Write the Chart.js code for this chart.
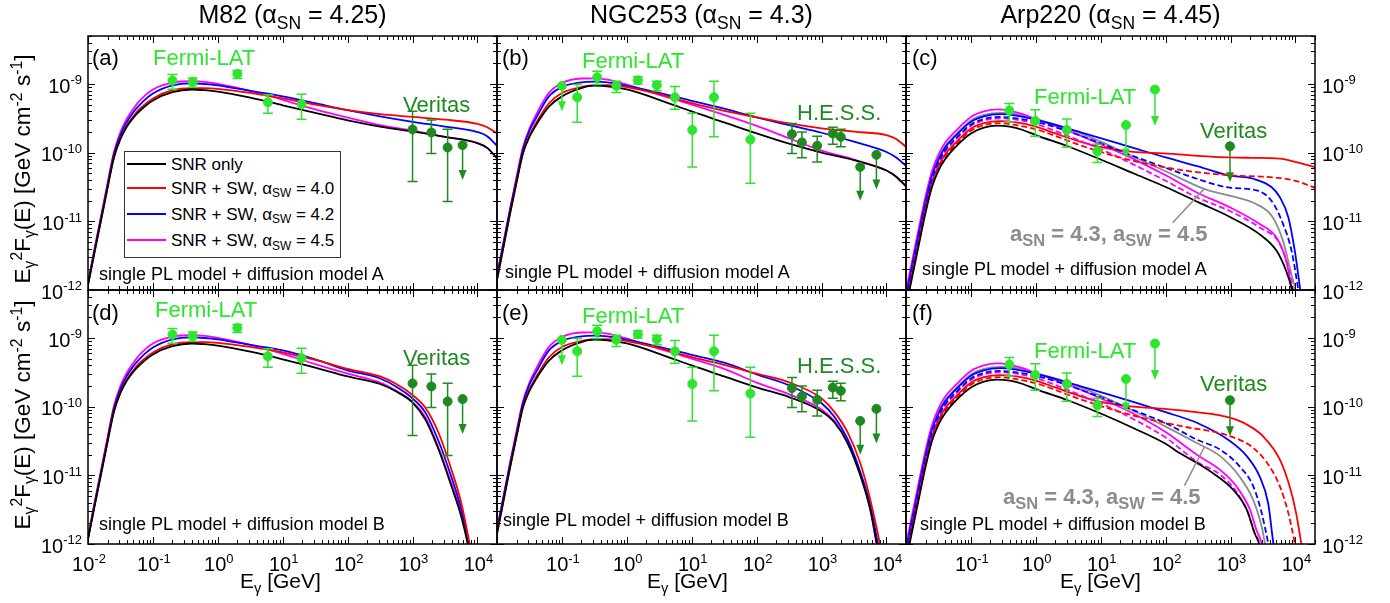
<!DOCTYPE html>
<html>
<head>
<meta charset="utf-8">
<title>Gamma-ray spectra of M82, NGC253 and Arp220</title>
<script src="https://cdn.jsdelivr.net/npm/chart.js@4.4.1/dist/chart.umd.min.js"></script>
<style>
html,body{margin:0;padding:0;background:#fff;}
#wrap{position:relative;width:1390px;height:603px;overflow:hidden;background:#fff;font-family:"Liberation Sans",Arial,Helvetica,sans-serif;color:#000;}
#wrap canvas{position:absolute;left:0;top:0;}
.t{position:absolute;white-space:nowrap;line-height:1;}
.sb{font-size:0.7em;position:relative;top:0.3em;}
.sb2{font-size:0.75em;position:relative;top:0.3em;}
.sp{font-size:0.7em;position:relative;top:-0.5em;}
</style>
</head>
<body>
<div id="wrap"></div>
<script>
// ---------------- axes & labels ----------------
const X_MIN = 1e-2, X_MAX = 2e4, Y_MIN = 1e-12, Y_MAX = 5e-9;
const xTickExps = [-2, -1, 0, 1, 2, 3, 4];
const yTickExps = [-9, -10, -11, -12];
const minorMults = [2, 3, 4, 5, 6, 7, 8, 9];

const titles = ['M82 (α<span class="sb">SN</span> = 4.25)', 'NGC253 (α<span class="sb">SN</span> = 4.3)', 'Arp220 (α<span class="sb">SN</span> = 4.45)'];
const panelTags = ['(a)', '(b)', '(c)', '(d)', '(e)', '(f)'];
const modelNotes = ['single PL model + diffusion model A', 'single PL model + diffusion model B'];
const legendLabels = ['SNR only', 'SNR + SW, α<span class="sb">SW</span> = 4.0', 'SNR + SW, α<span class="sb">SW</span> = 4.2', 'SNR + SW, α<span class="sb">SW</span> = 4.5'];
const altLabel = 'a<span class="sb2">SN</span> = 4.3, a<span class="sb2">SW</span> = 4.5';
const yTitle = 'E<span class="sb">γ</span><span class="sp">2</span>F<span class="sb">γ</span>(E) [GeV cm<span class="sp">-2</span> s<span class="sp">-1</span>]';
const xTitle = 'E<span class="sb">γ</span> [GeV]';

// ---------------- model curves: [log10(E/GeV), log10(E²F / GeV cm⁻² s⁻¹)] ----------------
// M82, diffusion model A
const m82A_snr  = [[-2,-11.93],[-1.9,-11.45],[-1.8,-10.99],[-1.7,-10.52],[-1.6,-10.07],[-1.5,-9.80],[-1.4,-9.62],[-1.3,-9.49],[-1.2,-9.39],[-1,-9.24],[-0.7,-9.12],[-0.4,-9.08],[-0.2,-9.09],[0,-9.11],[0.5,-9.20],[1,-9.31],[1.5,-9.42],[2,-9.53],[2.5,-9.62],[3,-9.69],[3.5,-9.77],[4,-9.86],[4.15,-9.93],[4.3,-10.08]];
const m82A_sw40 = [[-2,-11.93],[-1.9,-11.45],[-1.8,-10.98],[-1.7,-10.51],[-1.6,-10.06],[-1.5,-9.79],[-1.4,-9.60],[-1.3,-9.47],[-1.2,-9.36],[-1,-9.21],[-0.7,-9.09],[-0.4,-9.06],[-0.2,-9.06],[0,-9.07],[0.5,-9.13],[1,-9.21],[1.5,-9.30],[2,-9.38],[2.5,-9.44],[3,-9.48],[3.5,-9.52],[4,-9.58],[4.15,-9.63],[4.3,-9.72]];
const m82A_sw42 = [[-2,-11.91],[-1.9,-11.42],[-1.8,-10.95],[-1.7,-10.48],[-1.6,-10.02],[-1.5,-9.74],[-1.4,-9.55],[-1.3,-9.41],[-1.2,-9.30],[-1,-9.14],[-0.7,-9.02],[-0.4,-8.99],[-0.2,-9.00],[0,-9.02],[0.5,-9.10],[1,-9.18],[1.5,-9.28],[2,-9.38],[2.5,-9.47],[3,-9.55],[3.5,-9.62],[4,-9.70],[4.15,-9.76],[4.3,-9.90]];
const m82A_sw45 = [[-2,-11.90],[-1.9,-11.40],[-1.8,-10.93],[-1.7,-10.45],[-1.6,-9.99],[-1.5,-9.70],[-1.4,-9.50],[-1.3,-9.36],[-1.2,-9.24],[-1,-9.08],[-0.7,-8.98],[-0.4,-8.96],[-0.2,-8.97],[0,-9.00],[0.5,-9.10],[1,-9.23],[1.5,-9.37],[2,-9.49],[2.5,-9.60],[3,-9.68],[3.5,-9.77],[4,-9.86],[4.15,-9.93],[4.3,-10.08]];
// M82, diffusion model B
const m82B_snr  = [[-2,-11.93],[-1.9,-11.45],[-1.8,-10.99],[-1.7,-10.52],[-1.6,-10.07],[-1.5,-9.80],[-1.4,-9.62],[-1.3,-9.49],[-1.2,-9.39],[-1,-9.24],[-0.7,-9.12],[-0.4,-9.08],[-0.2,-9.09],[0,-9.11],[0.5,-9.20],[1,-9.31],[1.5,-9.43],[2,-9.56],[2.5,-9.67],[2.75,-9.78],[3,-9.94],[3.2,-10.19],[3.4,-10.62],[3.6,-11.16],[3.75,-11.60],[3.85,-12.0],[3.9,-12.25]];
const m82B_sw40 = [[-2,-11.93],[-1.9,-11.45],[-1.8,-10.98],[-1.7,-10.51],[-1.6,-10.06],[-1.5,-9.79],[-1.4,-9.60],[-1.3,-9.47],[-1.2,-9.36],[-1,-9.21],[-0.7,-9.09],[-0.4,-9.06],[-0.2,-9.06],[0,-9.07],[0.5,-9.13],[1,-9.21],[1.5,-9.32],[2,-9.45],[2.5,-9.56],[2.75,-9.67],[3,-9.83],[3.2,-10.02],[3.4,-10.38],[3.6,-10.92],[3.75,-11.40],[3.88,-12.0],[3.93,-12.25]];
const m82B_sw42 = [[-2,-11.91],[-1.9,-11.42],[-1.8,-10.95],[-1.7,-10.48],[-1.6,-10.02],[-1.5,-9.74],[-1.4,-9.55],[-1.3,-9.41],[-1.2,-9.30],[-1,-9.14],[-0.7,-9.02],[-0.4,-8.99],[-0.2,-9.00],[0,-9.02],[0.5,-9.10],[1,-9.18],[1.5,-9.31],[2,-9.47],[2.5,-9.59],[2.75,-9.71],[3,-9.88],[3.2,-10.09],[3.4,-10.50],[3.6,-11.03],[3.75,-11.49],[3.87,-12.0],[3.92,-12.25]];
const m82B_sw45 = [[-2,-11.90],[-1.9,-11.40],[-1.8,-10.93],[-1.7,-10.45],[-1.6,-9.99],[-1.5,-9.70],[-1.4,-9.50],[-1.3,-9.36],[-1.2,-9.24],[-1,-9.08],[-0.7,-8.98],[-0.4,-8.96],[-0.2,-8.97],[0,-9.00],[0.5,-9.10],[1,-9.23],[1.5,-9.38],[2,-9.52],[2.5,-9.65],[2.75,-9.77],[3,-9.93],[3.2,-10.16],[3.4,-10.60],[3.6,-11.13],[3.75,-11.56],[3.86,-12.0],[3.91,-12.25]];
// NGC253, diffusion model A
const n253A_snr  = [[-2,-11.85],[-1.9,-11.37],[-1.8,-10.89],[-1.7,-10.44],[-1.6,-10.01],[-1.5,-9.77],[-1.4,-9.60],[-1.2,-9.33],[-1,-9.18],[-0.7,-9.06],[-0.5,-9.025],[-0.3,-9.035],[0,-9.08],[0.5,-9.23],[1,-9.40],[1.5,-9.56],[2,-9.72],[2.5,-9.87],[3,-10.00],[3.5,-10.11],[4,-10.26],[4.15,-10.35],[4.3,-10.49]];
const n253A_sw40 = [[-2,-11.85],[-1.9,-11.37],[-1.8,-10.89],[-1.7,-10.43],[-1.6,-10.00],[-1.5,-9.75],[-1.4,-9.57],[-1.2,-9.28],[-1,-9.13],[-0.7,-9.044],[-0.5,-9.015],[-0.3,-9.015],[0,-9.044],[0.5,-9.147],[1,-9.28],[1.5,-9.39],[2,-9.485],[2.5,-9.575],[3,-9.646],[3.5,-9.695],[4,-9.744],[4.15,-9.80],[4.3,-9.915]];
const n253A_sw42 = [[-2,-11.80],[-1.9,-11.32],[-1.8,-10.84],[-1.7,-10.39],[-1.6,-9.95],[-1.5,-9.68],[-1.4,-9.50],[-1.2,-9.18],[-1,-9.044],[-0.7,-8.976],[-0.5,-8.966],[-0.3,-8.976],[0,-9.025],[0.5,-9.13],[1,-9.245],[1.5,-9.36],[2,-9.485],[2.5,-9.60],[3,-9.71],[3.5,-9.84],[4,-9.99],[4.15,-10.07],[4.3,-10.19]];
const n253A_sw45 = [[-2,-11.78],[-1.9,-11.30],[-1.8,-10.82],[-1.7,-10.36],[-1.6,-9.92],[-1.5,-9.65],[-1.4,-9.45],[-1.2,-9.13],[-1,-8.985],[-0.7,-8.92],[-0.5,-8.917],[-0.3,-8.936],[0,-9.01],[0.5,-9.157],[1,-9.30],[1.5,-9.45],[2,-9.61],[2.5,-9.79],[3,-9.97],[3.5,-10.10],[4,-10.26],[4.15,-10.35],[4.3,-10.49]];
// NGC253, diffusion model B
const n253B_snr  = [[-2,-11.85],[-1.9,-11.37],[-1.8,-10.89],[-1.7,-10.44],[-1.6,-10.01],[-1.5,-9.77],[-1.4,-9.60],[-1.2,-9.33],[-1,-9.18],[-0.7,-9.06],[-0.5,-9.025],[-0.3,-9.035],[0,-9.08],[0.5,-9.23],[1,-9.40],[1.5,-9.56],[2,-9.72],[2.5,-9.86],[3,-10.07],[3.2,-10.23],[3.4,-10.53],[3.6,-11.01],[3.75,-11.50],[3.85,-12.0],[3.9,-12.25]];
const n253B_sw40 = [[-2,-11.85],[-1.9,-11.37],[-1.8,-10.89],[-1.7,-10.43],[-1.6,-10.00],[-1.5,-9.75],[-1.4,-9.57],[-1.2,-9.28],[-1,-9.13],[-0.7,-9.044],[-0.5,-9.015],[-0.3,-9.015],[0,-9.044],[0.5,-9.147],[1,-9.28],[1.5,-9.39],[2,-9.52],[2.5,-9.645],[3,-9.88],[3.2,-10.08],[3.4,-10.37],[3.6,-10.83],[3.75,-11.35],[3.9,-12.0],[3.95,-12.25]];
const n253B_sw42 = [[-2,-11.80],[-1.9,-11.32],[-1.8,-10.84],[-1.7,-10.39],[-1.6,-9.95],[-1.5,-9.68],[-1.4,-9.50],[-1.2,-9.18],[-1,-9.044],[-0.7,-8.976],[-0.5,-8.966],[-0.3,-8.976],[0,-9.025],[0.5,-9.13],[1,-9.245],[1.5,-9.36],[2,-9.53],[2.5,-9.69],[3,-9.95],[3.2,-10.15],[3.4,-10.47],[3.6,-10.96],[3.75,-11.44],[3.87,-12.0],[3.92,-12.25]];
const n253B_sw45 = [[-2,-11.78],[-1.9,-11.30],[-1.8,-10.82],[-1.7,-10.36],[-1.6,-9.92],[-1.5,-9.65],[-1.4,-9.45],[-1.2,-9.13],[-1,-8.985],[-0.7,-8.92],[-0.5,-8.917],[-0.3,-8.936],[0,-9.01],[0.5,-9.157],[1,-9.30],[1.5,-9.45],[2,-9.65],[2.5,-9.82],[3,-10.04],[3.2,-10.21],[3.4,-10.51],[3.6,-10.99],[3.75,-11.48],[3.85,-12.0],[3.9,-12.25]];
// Arp220, diffusion model A (solid and dashed sets, gray: alpha_SN = 4.3, alpha_SW = 4.5)
const arpA_snr   = [[-2,-12.25],[-1.95,-12.02],[-1.8,-11.33],[-1.7,-10.88],[-1.6,-10.50],[-1.5,-10.26],[-1.4,-10.10],[-1.24,-9.92],[-1,-9.72],[-0.8,-9.635],[-0.6,-9.605],[-0.4,-9.62],[-0.2,-9.67],[0,-9.745],[0.5,-9.91],[1,-10.10],[1.5,-10.30],[2,-10.50],[2.5,-10.72],[3,-10.94],[3.45,-11.19],[3.71,-11.43],[3.86,-11.73],[3.94,-11.97],[3.98,-12.15]];
const arpA_sw40  = [[-2,-12.19],[-1.95,-11.95],[-1.8,-11.26],[-1.7,-10.81],[-1.6,-10.44],[-1.5,-10.20],[-1.4,-10.03],[-1.24,-9.86],[-1,-9.65],[-0.8,-9.57],[-0.55,-9.54],[-0.3,-9.56],[0,-9.62],[0.3,-9.72],[0.68,-9.84],[1,-9.92],[1.5,-9.99],[1.96,-10.01],[2.73,-10.06],[3.3,-10.075],[3.76,-10.087],[4.01,-10.137],[4.3,-10.21]];
const arpA_sw42  = [[-2,-12.09],[-1.95,-11.85],[-1.8,-11.16],[-1.7,-10.71],[-1.6,-10.34],[-1.5,-10.10],[-1.4,-9.93],[-1.24,-9.76],[-1,-9.55],[-0.8,-9.47],[-0.55,-9.44],[-0.3,-9.46],[0,-9.52],[0.68,-9.70],[1.5,-9.93],[2,-10.07],[2.5,-10.20],[2.96,-10.33],[3.35,-10.38],[3.63,-10.50],[3.76,-10.65],[3.89,-10.94],[3.99,-11.43],[4.07,-11.97],[4.1,-12.2]];
const arpA_sw45  = [[-2,-12.02],[-1.95,-11.78],[-1.8,-11.09],[-1.7,-10.64],[-1.6,-10.27],[-1.5,-10.03],[-1.4,-9.86],[-1.24,-9.69],[-1,-9.48],[-0.8,-9.40],[-0.6,-9.37],[-0.4,-9.39],[-0.2,-9.44],[0,-9.51],[0.5,-9.68],[1,-9.88],[1.5,-10.09],[2,-10.33],[2.48,-10.58],[3,-10.80],[3.45,-11.04],[3.71,-11.24],[3.86,-11.58],[3.94,-11.97],[3.98,-12.2]];
const arpA_sw40d = [[-2,-12.22],[-1.95,-11.98],[-1.8,-11.29],[-1.7,-10.84],[-1.6,-10.47],[-1.5,-10.23],[-1.4,-10.06],[-1.24,-9.89],[-1,-9.68],[-0.8,-9.60],[-0.55,-9.57],[-0.3,-9.60],[0,-9.66],[0.68,-9.89],[1,-9.99],[1.5,-10.12],[2.22,-10.25],[2.99,-10.33],[3.5,-10.35],[3.76,-10.37],[4,-10.41],[4.3,-10.51]];
const arpA_sw42d = [[-2,-12.13],[-1.95,-11.89],[-1.8,-11.20],[-1.7,-10.75],[-1.6,-10.38],[-1.5,-10.14],[-1.4,-9.97],[-1.24,-9.80],[-1,-9.59],[-0.8,-9.51],[-0.55,-9.48],[-0.3,-9.50],[0,-9.55],[0.68,-9.75],[1.5,-10.05],[2,-10.22],[2.48,-10.38],[2.99,-10.51],[3.4,-10.55],[3.63,-10.70],[3.81,-11.04],[3.94,-11.43],[4.04,-11.97],[4.08,-12.2]];
const arpA_sw45d = [[-2,-12.15],[-1.95,-11.91],[-1.8,-11.22],[-1.7,-10.77],[-1.6,-10.40],[-1.5,-10.16],[-1.4,-9.99],[-1.24,-9.82],[-1,-9.61],[-0.8,-9.53],[-0.55,-9.50],[-0.3,-9.52],[0,-9.58],[0.5,-9.76],[1,-9.95],[1.5,-10.17],[2,-10.41],[2.48,-10.65],[2.99,-10.85],[3.45,-11.09],[3.76,-11.33],[3.89,-11.68],[3.96,-11.97],[4,-12.2]];
const arpA_alt   = [[-2,-12.07],[-1.95,-11.83],[-1.8,-11.14],[-1.7,-10.69],[-1.6,-10.32],[-1.5,-10.08],[-1.4,-9.91],[-1.24,-9.74],[-1,-9.53],[-0.8,-9.45],[-0.55,-9.42],[-0.3,-9.44],[0,-9.51],[0.5,-9.65],[1,-9.84],[1.5,-10.06],[2,-10.27],[2.6,-10.53],[3,-10.63],[3.4,-10.75],[3.65,-10.94],[3.81,-11.29],[3.94,-11.78],[4,-12.0],[4.04,-12.2]];
// Arp220, diffusion model B
const arpB_snr   = [[-2,-12.25],[-1.95,-12.02],[-1.8,-11.33],[-1.7,-10.88],[-1.6,-10.50],[-1.5,-10.26],[-1.4,-10.10],[-1.24,-9.92],[-1,-9.72],[-0.8,-9.635],[-0.6,-9.605],[-0.4,-9.62],[-0.2,-9.67],[0,-9.745],[0.5,-9.91],[1,-10.10],[1.5,-10.31],[2,-10.54],[2.22,-10.68],[2.5,-10.83],[2.73,-10.97],[3.04,-11.21],[3.25,-11.50],[3.37,-11.84],[3.44,-12.0],[3.48,-12.2]];
const arpB_sw40  = [[-2,-12.19],[-1.95,-11.95],[-1.8,-11.26],[-1.7,-10.81],[-1.6,-10.44],[-1.5,-10.20],[-1.4,-10.03],[-1.24,-9.86],[-1,-9.65],[-0.8,-9.57],[-0.55,-9.54],[-0.3,-9.56],[0,-9.62],[0.3,-9.72],[0.68,-9.845],[1,-9.93],[1.5,-10.0],[1.96,-10.03],[2.73,-10.11],[2.99,-10.16],[3.25,-10.26],[3.5,-10.43],[3.76,-10.77],[3.91,-11.16],[4.01,-11.55],[4.09,-11.99],[4.13,-12.2]];
const arpB_sw42  = [[-2,-12.09],[-1.95,-11.85],[-1.8,-11.16],[-1.7,-10.71],[-1.6,-10.34],[-1.5,-10.10],[-1.4,-9.93],[-1.24,-9.76],[-1,-9.55],[-0.8,-9.47],[-0.55,-9.44],[-0.3,-9.46],[0,-9.52],[0.68,-9.70],[1.5,-9.93],[2,-10.08],[2.48,-10.235],[2.99,-10.50],[3.25,-10.72],[3.45,-11.02],[3.58,-11.41],[3.66,-11.99],[3.7,-12.2]];
const arpB_sw45  = [[-2,-12.02],[-1.95,-11.78],[-1.8,-11.09],[-1.7,-10.64],[-1.6,-10.27],[-1.5,-10.03],[-1.4,-9.86],[-1.24,-9.69],[-1,-9.48],[-0.8,-9.40],[-0.6,-9.37],[-0.4,-9.39],[-0.2,-9.44],[0,-9.51],[0.5,-9.68],[1,-9.88],[1.5,-10.10],[2,-10.37],[2.48,-10.70],[2.84,-10.92],[3.09,-11.16],[3.30,-11.50],[3.40,-11.80],[3.48,-11.99],[3.52,-12.2]];
const arpB_sw40d = [[-2,-12.22],[-1.95,-11.98],[-1.8,-11.29],[-1.7,-10.84],[-1.6,-10.47],[-1.5,-10.23],[-1.4,-10.06],[-1.24,-9.89],[-1,-9.68],[-0.8,-9.60],[-0.55,-9.57],[-0.3,-9.60],[0,-9.66],[0.68,-9.89],[1,-9.99],[1.5,-10.13],[2.22,-10.28],[2.99,-10.43],[3.35,-10.60],[3.6,-10.87],[3.76,-11.16],[3.89,-11.55],[3.99,-11.99],[4.03,-12.2]];
const arpB_sw42d = [[-2,-12.13],[-1.95,-11.89],[-1.8,-11.20],[-1.7,-10.75],[-1.6,-10.38],[-1.5,-10.14],[-1.4,-9.97],[-1.24,-9.80],[-1,-9.59],[-0.8,-9.51],[-0.55,-9.48],[-0.3,-9.50],[0,-9.55],[0.68,-9.75],[1.5,-10.05],[2,-10.24],[2.48,-10.48],[2.84,-10.625],[3.14,-10.87],[3.35,-11.16],[3.48,-11.55],[3.58,-11.99],[3.62,-12.2]];
const arpB_sw45d = [[-2,-12.15],[-1.95,-11.91],[-1.8,-11.22],[-1.7,-10.77],[-1.6,-10.40],[-1.5,-10.16],[-1.4,-9.99],[-1.24,-9.82],[-1,-9.61],[-0.8,-9.53],[-0.55,-9.50],[-0.3,-9.52],[0,-9.58],[0.5,-9.76],[1,-9.95],[1.5,-10.18],[2,-10.45],[2.48,-10.80],[2.84,-10.99],[3.09,-11.24],[3.27,-11.55],[3.37,-11.84],[3.45,-12.0],[3.49,-12.2]];
const arpB_alt   = [[-2,-12.07],[-1.95,-11.83],[-1.8,-11.14],[-1.7,-10.69],[-1.6,-10.32],[-1.5,-10.08],[-1.4,-9.91],[-1.24,-9.74],[-1,-9.53],[-0.8,-9.45],[-0.55,-9.42],[-0.3,-9.44],[0,-9.51],[0.5,-9.65],[1,-9.84],[1.5,-10.06],[2,-10.29],[2.48,-10.53],[2.84,-10.72],[3.14,-11.02],[3.35,-11.36],[3.48,-11.75],[3.53,-11.99],[3.57,-12.2]];

// ---------------- measurements: [E (GeV), E²F, lower, upper] ; upper limits: [E, E²F, arrow tip] ----------------
const m82_fermi    = [[0.2,1.12e-9,8.4e-10,1.37e-9],[0.41,1.07e-9,9.0e-10,1.22e-9],[2.0,1.40e-9,1.2e-9,1.57e-9],[5.9,5.4e-10,3.75e-10,7.0e-10],[19.5,5.1e-10,3.06e-10,7.1e-10]];
const m82_veritas  = [[1000,2.18e-10,3.8e-11,4.0e-10],[1950,1.97e-10,9.7e-11,3.0e-10],[3470,1.19e-10,1.94e-11,2.2e-10]];
const m82_veritasUL = [[5900,1.29e-10,4.0e-11]];
const n253_fermi   = [[0.172,6.4e-10,2.77e-10,9.8e-10],[0.35,1.25e-9,9.8e-10,1.53e-9],[0.69,9.4e-10,7.5e-10,1.1e-9],[1.48,1.13e-9,1.0e-9,1.27e-9],[2.9,9.6e-10,8.0e-10,1.1e-9],[5.5,6.4e-10,4.3e-10,9.2e-10],[10.2,2.14e-10,6.2e-11,3.75e-10],[22,6.4e-10,1.7e-10,1.1e-9],[80,1.55e-10,3.6e-11,3.75e-10]];
const n253_fermiUL = [[0.1,9.4e-10,4.0e-10]];
const n253_hess    = [[350,1.86e-10,9.7e-11,2.67e-10],[498,1.41e-10,8.4e-11,2.0e-10],[857,1.26e-10,7.3e-11,1.74e-10],[1490,1.9e-10,1.33e-10,2.34e-10],[1980,1.7e-10,1.22e-10,2.2e-10]];
const n253_hessUL  = [[3940,6.2e-11,2.0e-11],[7000,9.3e-11,2.9e-11]];
const arp_fermi    = [[0.39,4.1e-10,2.8e-10,5.2e-10],[0.98,2.9e-10,1.74e-10,4.2e-10],[3.0,2.14e-10,1.2e-10,3.1e-10],[8.9,1.05e-10,7.2e-11,1.33e-10]];
const arp_fermiUL  = [[24.5,2.53e-10,8.2e-11],[68.5,8.3e-10,2.45e-10]];
const arp_veritas  = [];
const arp_veritasUL = [[980,1.24e-10,3.7e-11]];

// ---------------- styles & layout ----------------
const COL = {snr:'#000000', sw40:'#ff0000', sw42:'#0000ff', sw45:'#ff00ff', alt:'#8c8c8c', fermi:'#2ee52e', tev:'#1f8a1f'};
const GEOM = {left:[88, 497, 906], width:409, top:[36, 290], bottom:[290, 544]};
const FONT = '"Liberation Sans", Arial, Helvetica, sans-serif';

const panels = [
  {col:0,row:0, curves:[[m82A_snr,'snr'],[m82A_sw40,'sw40'],[m82A_sw42,'sw42'],[m82A_sw45,'sw45']], fermi:m82_fermi, fermiUL:[], tev:m82_veritas, tevUL:m82_veritasUL, yLab:'left', xLab:null},
  {col:1,row:0, curves:[[n253A_snr,'snr'],[n253A_sw40,'sw40'],[n253A_sw42,'sw42'],[n253A_sw45,'sw45']], fermi:n253_fermi, fermiUL:n253_fermiUL, tev:n253_hess, tevUL:n253_hessUL, yLab:null, xLab:null},
  {col:2,row:0, curves:[[arpA_snr,'snr'],[arpA_sw40d,'sw40',1],[arpA_sw42d,'sw42',1],[arpA_sw45d,'sw45',1],[arpA_sw40,'sw40'],[arpA_sw42,'sw42'],[arpA_sw45,'sw45'],[arpA_alt,'alt']], fermi:arp_fermi, fermiUL:arp_fermiUL, tev:arp_veritas, tevUL:arp_veritasUL, yLab:'right', xLab:null, pointer:[[2.108,-11.02],[2.6,-10.52]]},
  {col:0,row:1, curves:[[m82B_snr,'snr'],[m82B_sw40,'sw40'],[m82B_sw42,'sw42'],[m82B_sw45,'sw45']], fermi:m82_fermi, fermiUL:[], tev:m82_veritas, tevUL:m82_veritasUL, yLab:'left', xLab:xTickExps},
  {col:1,row:1, curves:[[n253B_snr,'snr'],[n253B_sw40,'sw40'],[n253B_sw42,'sw42'],[n253B_sw45,'sw45']], fermi:n253_fermi, fermiUL:n253_fermiUL, tev:n253_hess, tevUL:n253_hessUL, yLab:null, xLab:xTickExps.slice(1)},
  {col:2,row:1, curves:[[arpB_snr,'snr'],[arpB_sw40d,'sw40',1],[arpB_sw42d,'sw42',1],[arpB_sw45d,'sw45',1],[arpB_sw40,'sw40'],[arpB_sw42,'sw42'],[arpB_sw45,'sw45'],[arpB_alt,'alt']], fermi:arp_fermi, fermiUL:arp_fermiUL, tev:arp_veritas, tevUL:arp_veritasUL, yLab:'right', xLab:xTickExps.slice(1), pointer:[[2.29,-11.15],[2.6,-10.58]]}
];

const wrap = document.getElementById('wrap');
const lg = arr => arr.map(p => ({x: Math.pow(10, p[0]), y: Math.pow(10, p[1])}));

function drawPow(ctx, exp, x, base, align) {
  ctx.font = '20px ' + FONT;
  const w1 = ctx.measureText('10').width;
  ctx.font = '13px ' + FONT;
  const w2 = ctx.measureText(String(exp)).width;
  let x0 = x;
  if (align === 'center') x0 = x - (w1 + w2) / 2;
  else if (align === 'right') x0 = x - w1 - w2;
  ctx.textAlign = 'left'; ctx.textBaseline = 'alphabetic'; ctx.fillStyle = '#000';
  ctx.font = '20px ' + FONT; ctx.fillText('10', x0, base);
  ctx.font = '13px ' + FONT; ctx.fillText(String(exp), x0 + w1, base - 8.5);
}

function makeFrame(p) {
  return {
    id: 'frame',
    afterDatasetsDraw(chart) {
      const {ctx, scales:{x, y}} = chart;
      ctx.save();
      const bars = [[p.fermi, COL.fermi], [p.tev, COL.tev]];
      bars.forEach(([pts, c]) => {
        ctx.strokeStyle = c; ctx.lineWidth = 1.5;
        pts.forEach(q => {
          const px = x.getPixelForValue(q[0]);
          const y0 = y.getPixelForValue(q[2]), y1 = y.getPixelForValue(q[3]);
          ctx.beginPath();
          ctx.moveTo(px, y0); ctx.lineTo(px, y1);
          ctx.moveTo(px - 5, y0); ctx.lineTo(px + 5, y0);
          ctx.moveTo(px - 5, y1); ctx.lineTo(px + 5, y1);
          ctx.stroke();
        });
      });
      const uls = [[p.fermiUL, COL.fermi], [p.tevUL, COL.tev]];
      uls.forEach(([pts, c]) => {
        ctx.strokeStyle = c; ctx.fillStyle = c; ctx.lineWidth = 1.5;
        pts.forEach(q => {
          const px = x.getPixelForValue(q[0]);
          const py = y.getPixelForValue(q[1]), pt = y.getPixelForValue(q[2]);
          ctx.beginPath(); ctx.moveTo(px, py); ctx.lineTo(px, pt - 8); ctx.stroke();
          ctx.beginPath(); ctx.moveTo(px - 4, pt - 10); ctx.lineTo(px + 4, pt - 10); ctx.lineTo(px, pt); ctx.closePath(); ctx.fill();
        });
      });
      if (p.pointer) {
        ctx.strokeStyle = COL.alt; ctx.lineWidth = 1.5;
        ctx.beginPath();
        ctx.moveTo(x.getPixelForValue(Math.pow(10, p.pointer[0][0])), y.getPixelForValue(Math.pow(10, p.pointer[0][1])));
        ctx.lineTo(x.getPixelForValue(Math.pow(10, p.pointer[1][0])), y.getPixelForValue(Math.pow(10, p.pointer[1][1])));
        ctx.stroke();
      }
      ctx.restore();
    },
    afterDraw(chart) {
      const {ctx, chartArea:a, scales:{x, y}} = chart;
      ctx.save();
      ctx.strokeStyle = '#000'; ctx.lineWidth = 1;
      ctx.beginPath();
      xTickExps.forEach(e => {
        [1].concat(minorMults).forEach(m => {
          const v = m * Math.pow(10, e);
          if (v < X_MIN || v > X_MAX) return;
          const px = Math.round(x.getPixelForValue(v)) + 0.5;
          const L = m === 1 ? 7 : 4;
          ctx.moveTo(px, a.bottom); ctx.lineTo(px, a.bottom - L);
          ctx.moveTo(px, a.top); ctx.lineTo(px, a.top + L);
        });
      });
      yTickExps.forEach(e => {
        [1].concat(minorMults).forEach(m => {
          const v = m * Math.pow(10, e);
          if (v < Y_MIN || v > Y_MAX * 1.0001) return;
          const py = Math.round(y.getPixelForValue(v)) + 0.5;
          const L = m === 1 ? 7 : 4;
          ctx.moveTo(a.left, py); ctx.lineTo(a.left + L, py);
          ctx.moveTo(a.right, py); ctx.lineTo(a.right - L, py);
        });
      });
      ctx.stroke();
      ctx.lineWidth = 1.5;
      ctx.strokeRect(a.left, a.top, a.right - a.left, a.bottom - a.top);
      if (p.yLab) {
        yTickExps.forEach(e => {
          const py = y.getPixelForValue(Math.pow(10, e));
          if (p.yLab === 'left') drawPow(ctx, e, a.left - 6, py + 8.7, 'right');
          else drawPow(ctx, e, a.right + 7, py + 8.7, 'left');
        });
      }
      if (p.xLab) {
        p.xLab.forEach(e => {
          const px = x.getPixelForValue(Math.pow(10, e));
          drawPow(ctx, e, px + 1, a.bottom + 27, 'center');
        });
      }
      ctx.restore();
    }
  };
}

panels.forEach(p => {
  const cv = document.createElement('canvas');
  cv.width = 1390; cv.height = 603;
  wrap.appendChild(cv);
  const L = GEOM.left[p.col], R = L + GEOM.width, T = GEOM.top[p.row], B = GEOM.bottom[p.row];
  const ds = [];
  ds.push({label:'Fermi-LAT', data: p.fermi.concat(p.fermiUL).map(q => ({x:q[0], y:q[1]})), showLine:false, pointRadius:4.5, pointBackgroundColor:COL.fermi, pointBorderColor:COL.fermi, borderColor:COL.fermi, backgroundColor:COL.fermi, order:0});
  ds.push({label:'TeV', data: p.tev.concat(p.tevUL).map(q => ({x:q[0], y:q[1]})), showLine:false, pointRadius:4.5, pointBackgroundColor:COL.tev, pointBorderColor:COL.tev, borderColor:COL.tev, backgroundColor:COL.tev, order:0});
  p.curves.forEach((c, k) => ds.push({
    label: c[1] + (c[2] ? ' dashed' : ''),
    data: lg(c[0]), borderColor: COL[c[1]], borderWidth: 1.8,
    borderDash: c[2] ? [6, 3] : [], pointRadius: 0, fill: false,
    cubicInterpolationMode: 'monotone', order: 1 + k
  }));
  new Chart(cv, {
    type: 'line',
    data: {datasets: ds},
    options: {
      responsive: false, animation: false, devicePixelRatio: 1, events: [],
      layout: {padding: {left: L, top: T, right: 1390 - R, bottom: 603 - B}},
      scales: {
        x: {type: 'logarithmic', min: X_MIN, max: X_MAX, display: false},
        y: {type: 'logarithmic', min: Y_MIN, max: Y_MAX, display: false}
      },
      plugins: {legend: {display: false}, tooltip: {enabled: false}}
    },
    plugins: [makeFrame(p)]
  });
});

// ---------------- text overlays ----------------
function addText(html, x, base, size, opt) {
  opt = opt || {};
  const d = document.createElement('div');
  d.className = 't';
  d.innerHTML = html;
  d.style.fontSize = size + 'px';
  d.style.top = (base - 0.8465 * size) + 'px';
  d.style.left = x + 'px';
  if (opt.center) d.style.transform = 'translateX(-50%)';
  if (opt.color) d.style.color = opt.color;
  if (opt.bold) d.style.fontWeight = 'bold';
  wrap.appendChild(d);
  return d;
}
function addVText(html, cx, cy, size) {
  const d = document.createElement('div');
  d.className = 't';
  d.innerHTML = html;
  d.style.fontSize = size + 'px';
  d.style.left = cx + 'px'; d.style.top = cy + 'px';
  d.style.transform = 'translate(-50%,-50%) rotate(-90deg)';
  wrap.appendChild(d);
}

titles.forEach((t, i) => addText(t, GEOM.left[i] + GEOM.width / 2, 23.5, 25, {center: true}));
addVText(yTitle, 22.5, 169, 22.5);
addVText(yTitle, 22.5, 415, 22.5);
[240, 647, 1060].forEach(x => addText(xTitle, x, 588, 21));

const tagPos = [[92,66],[502,66],[912,66],[92,321],[502,321],[912,321]];
panelTags.forEach((t, i) => addText(t, tagPos[i][0], tagPos[i][1], 22));

const fermiPos = [[153,66],[582,69],[1034,105],[155,317.5],[582,324],[1034,359]];
fermiPos.forEach(p => addText('Fermi-LAT', p[0], p[1], 22, {color: COL.fermi}));
const tevText = [['Veritas',403,112.4],['H.E.S.S.',797,120.7],['Veritas',1200,138.4],['Veritas',403,365.8],['H.E.S.S.',797,374],['Veritas',1200,391.7]];
tevText.forEach(p => addText(p[0], p[1], p[2], 22, {color: COL.tev}));

const notePos = [[99,280],[505,278],[922,275],[99,530],[503,526.5],[920,530]];
notePos.forEach((p, i) => addText(modelNotes[i < 3 ? 0 : 1], p[0], p[1], 18));

addText(altLabel, 1010, 241.5, 22, {color: COL.alt, bold: true});
addText(altLabel, 1003, 505, 22, {color: COL.alt, bold: true});

// legend (panel a)
const leg = document.createElement('div');
leg.style.cssText = 'position:absolute;left:124px;top:151px;width:215px;height:105px;border:1px solid #333;background:#fff;';
wrap.appendChild(leg);
const legCols = [COL.snr, COL.sw40, COL.sw42, COL.sw45];
const legRowY = [163.5, 187.5, 213.5, 240];
legendLabels.forEach((l, i) => {
  const ln = document.createElement('div');
  ln.style.cssText = 'position:absolute;left:127px;width:39px;height:2px;background:' + legCols[i] + ';top:' + (legRowY[i] - 1) + 'px;';
  wrap.appendChild(ln);
  addText(l, 171, legRowY[i] + 6.5, 17);
});
</script>
</body>
</html>
